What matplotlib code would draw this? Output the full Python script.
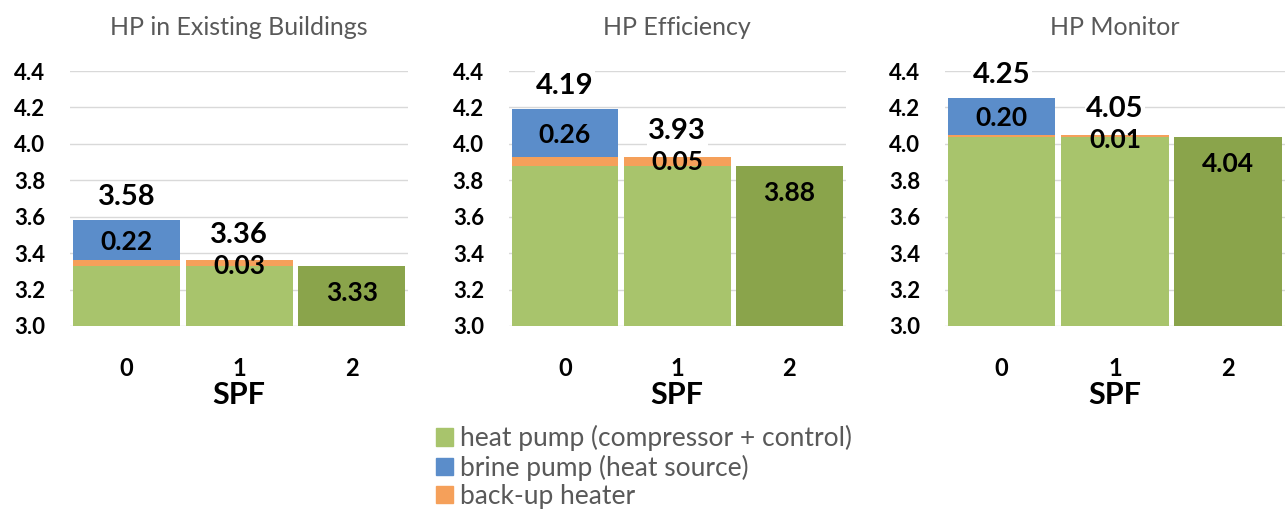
import matplotlib.pyplot as plt
from matplotlib.patches import Patch

plt.rcParams['font.family'] = ['Lato', 'DejaVu Sans']

titles = ['HP in Existing Buildings', 'HP Efficiency', 'HP Monitor']
spf = ['0', '1', '2']

# per study: green base, back-up heater, brine pump
heat_pump = [3.33, 3.88, 4.04]
backup = [0.03, 0.05, 0.01]
brine = [0.22, 0.26, 0.20]

c_green = '#a8c46c'
c_dkgreen = '#8aa44b'
c_blue = '#5b8dca'
c_orange = '#f5a05a'
c_grey = '#595959'

fig = plt.figure(figsize=(12.85, 5.14), dpi=100)
lefts = [0.0545, 0.396, 0.7354]
widths = [0.263, 0.262, 0.2646]

box = dict(facecolor='white', edgecolor='none', pad=1)

for k in range(3):
    ax = fig.add_axes([lefts[k], 0.3658, widths[k], 0.496])
    hp = heat_pump[k]
    bu = backup[k]
    br = brine[k]
    w = 0.95
    # SPF 0: heat pump + back-up + brine
    ax.bar(0, hp, width=w, color=c_green)
    ax.bar(0, bu, bottom=hp, width=w, color=c_orange)
    ax.bar(0, br, bottom=hp + bu, width=w, color=c_blue)
    # SPF 1: heat pump + back-up
    ax.bar(1, hp, width=w, color=c_green)
    ax.bar(1, bu, bottom=hp, width=w, color=c_orange)
    # SPF 2: heat pump only
    ax.bar(2, hp, width=w, color=c_dkgreen)

    t0 = hp + bu + br
    t1 = hp + bu
    ax.text(0, t0 + 0.13, f'{t0:.2f}', ha='center', va='center',
            fontsize=21, fontweight='bold', bbox=box)
    ax.text(0, hp + bu + br / 2 - 0.01, f'{br:.2f}', ha='center', va='center',
            fontsize=19, fontweight='bold')
    ax.text(1, t1 + 0.14, f'{t1:.2f}', ha='center', va='center',
            fontsize=21, fontweight='bold', bbox=box)
    ax.text(1, t1 - 0.03, f'{bu:.2f}', ha='center', va='center',
            fontsize=19, fontweight='bold')
    ax.text(2, hp - 0.15, f'{hp:.2f}', ha='center', va='center',
            fontsize=19, fontweight='bold')

    ax.set_ylim(3.0, 4.4)
    ax.set_xlim(-0.5, 2.5)
    ax.set_yticks([3.0, 3.2, 3.4, 3.6, 3.8, 4.0, 4.2, 4.4])
    ax.set_yticklabels([f'{v:.1f}' for v in ax.get_yticks()],
                       fontsize=16, fontweight='bold')
    ax.set_xticks(range(3))
    ax.set_xticklabels(spf, fontsize=17, fontweight='bold')
    ax.tick_params(axis='both', length=0)
    ax.tick_params(axis='x', pad=22)
    ax.tick_params(axis='y', pad=18)
    ax.grid(axis='y', color='#d9d9d9', linewidth=1)
    ax.set_axisbelow(True)
    for s in ax.spines.values():
        s.set_visible(False)
    ax.set_xlabel('SPF', fontsize=22, fontweight='bold', labelpad=1)
    ax.set_title(titles[k], fontsize=18, color=c_grey, pad=26)

handles = [Patch(color=c_green, label='heat pump (compressor + control)'),
           Patch(color=c_blue, label='brine pump (heat source)'),
           Patch(color=c_orange, label='back-up heater')]
leg = fig.legend(handles=handles, loc='upper left', bbox_to_anchor=(0.331, 0.193),
                 frameon=False, fontsize=19, handlelength=0.65, handleheight=0.65,
                 handletextpad=0.25, labelspacing=0.12, borderaxespad=0)
for t in leg.get_texts():
    t.set_color(c_grey)

fig.savefig('out.png', dpi=100)
